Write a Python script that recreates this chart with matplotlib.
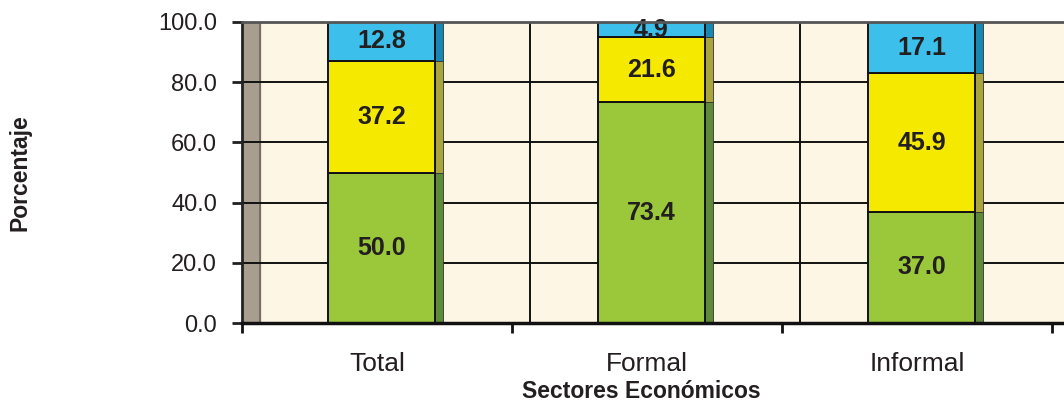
import matplotlib
matplotlib.use("Agg")
import matplotlib.pyplot as plt
import numpy as np

plt.rcParams['font.family'] = ['Liberation Sans', 'DejaVu Sans']

categories = ["Total", "Formal", "Informal"]
green_vals = [50.0, 73.4, 37.0]
yellow_vals = [37.2, 21.6, 45.9]
blue_vals = [12.8, 4.9, 17.1]
yticks = [0, 20, 40, 60, 80, 100]

front_colors = ["#9bc83a", "#f5e900", "#3cbfea"]
side_colors = ["#5f8a38", "#aaa43c", "#1787b4"]
series = [green_vals, yellow_vals, blue_vals]

W, H = 1064, 403
fig = plt.figure(figsize=(W / 100, H / 100), dpi=100)
left_px, bottom_px, top_px = 242, 323, 22
ax = fig.add_axes([left_px / W, 1 - bottom_px / H, 1 - left_px / W, (bottom_px - top_px) / H])

px = 1 / 270.0
ax.set_xlim(0, 3 + 12 * px)
ax.set_ylim(0, 100)
ax.set_facecolor("#fdf6e4")

# back wall (3D depth)
depth = 18 * px
ax.axvspan(0, depth, color="#a89e90", zorder=1)
ax.axvline(depth, color="#6e665c", lw=1.2, zorder=1.5)

# horizontal gridlines
for yv in yticks[1:-1]:
    ax.axhline(yv, color="#111111", lw=1.4, zorder=2)
# back vertical gridlines
for xv in range(1, 3):
    ax.axvline(xv + depth, color="#111111", lw=1.4, zorder=2)

x = np.arange(len(categories)) + 0.5 + 4.5 * px
bw = 107 * px
side_w = 8 * px
bottom = np.zeros(len(categories))
for vals, fc, sc in zip(series, front_colors, side_colors):
    vals = np.array(vals)
    ax.bar(x + bw / 2, vals, width=side_w, bottom=bottom, align="edge",
           color=sc, edgecolor="#333333", linewidth=0.6, zorder=3)
    ax.bar(x, vals, width=bw, bottom=bottom, color=fc,
           edgecolor="#111111", linewidth=1.4, zorder=4)
    for xi, b, v in zip(x, bottom, vals):
        ax.text(xi, b + v / 2, f"{v:.1f}", ha="center", va="center",
                fontsize=18, fontweight="bold", color="#231f20", zorder=5)
    bottom = bottom + vals

# spines
ax.spines["right"].set_visible(False)
ax.spines["top"].set_color("#555555")
ax.spines["top"].set_linewidth(2)
ax.spines["bottom"].set_color("#111111")
ax.spines["bottom"].set_linewidth(2.5)
ax.spines["left"].set_color("#222222")
ax.spines["left"].set_linewidth(2)
for s in ax.spines.values():
    s.set_zorder(6)

ax.set_yticks(yticks)
ax.set_yticklabels([f"{v:.1f}" for v in yticks])
ax.tick_params(axis="y", length=7, width=2, pad=11, labelsize=17, colors="#231f20")

ax.set_xticks([0, 1, 2, 3])
ax.set_xticklabels([])
ax.tick_params(axis="x", which="major", length=7, width=2, colors="#111111")
ax.set_xticks(np.arange(len(categories)) + 0.5, minor=True)
ax.set_xticklabels(categories, minor=True)
ax.tick_params(axis="x", which="minor", length=0, pad=21, labelsize=19, labelcolor="#231f20")

fig.text(641 / W, 1 - 392 / H, "Sectores Económicos", ha="center", va="center",
         fontsize=16.5, fontweight="bold", color="#231f20")
fig.text(20 / W, 1 - 173 / H, "Porcentaje", ha="center", va="center", rotation=90,
         fontsize=16.5, fontweight="bold", color="#231f20")

fig.savefig("out.png", dpi=100)
